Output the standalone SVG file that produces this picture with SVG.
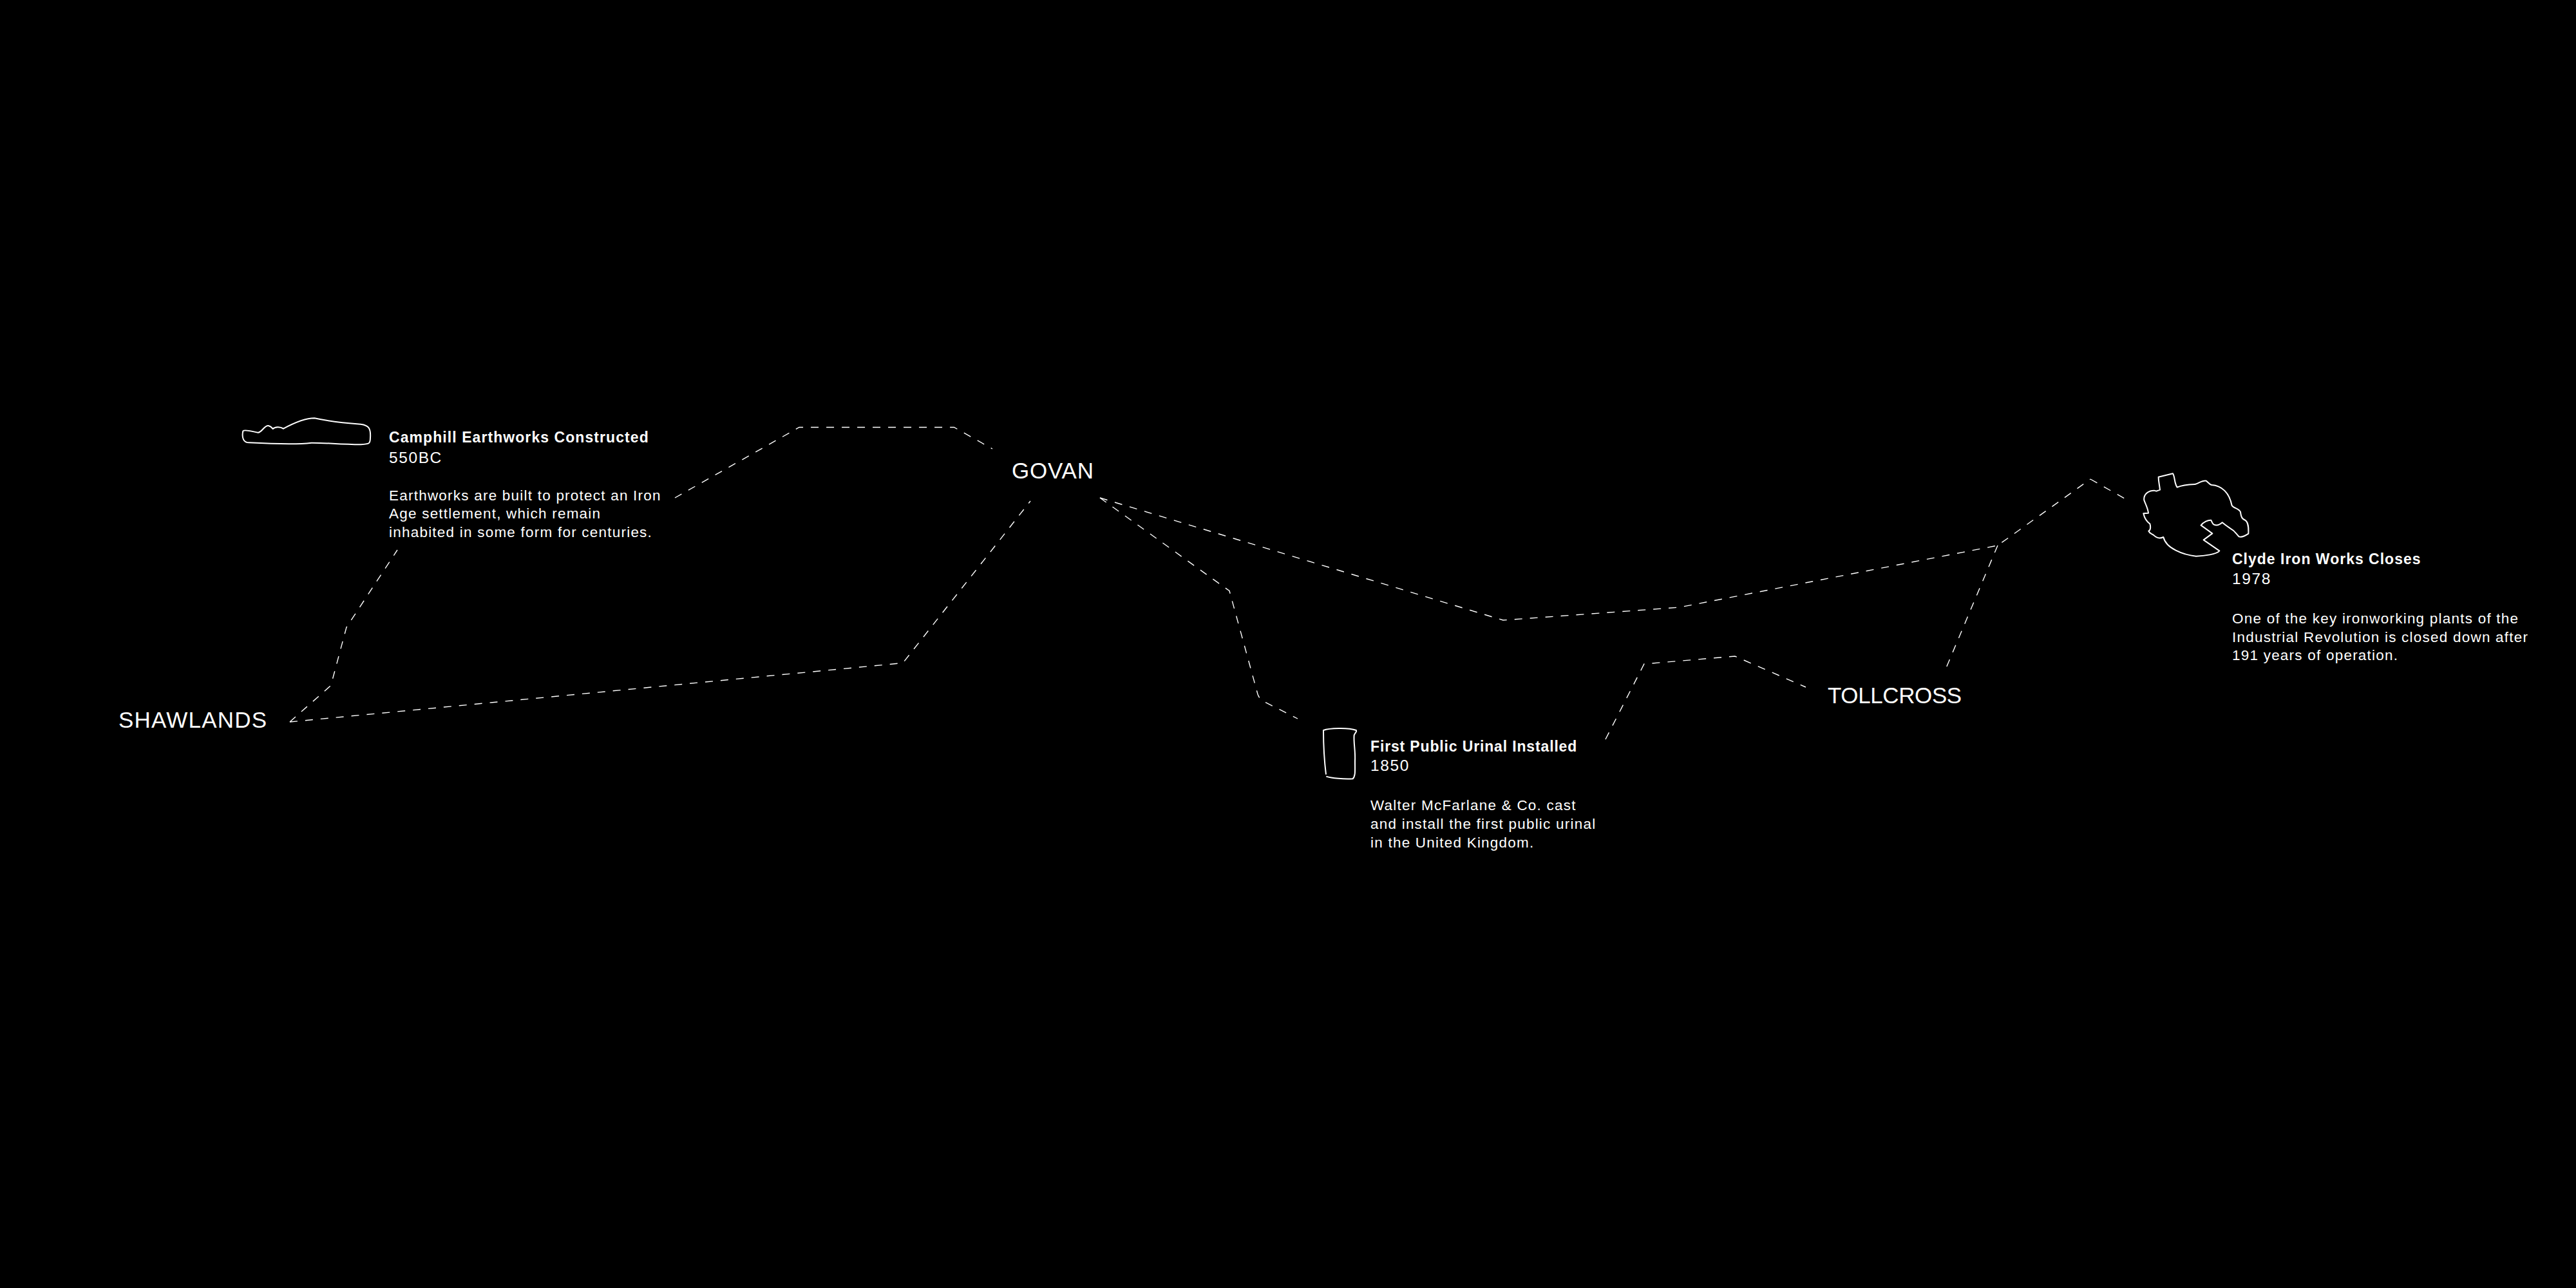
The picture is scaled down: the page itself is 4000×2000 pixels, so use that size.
<svg xmlns="http://www.w3.org/2000/svg" width="4000" height="2000" viewBox="0 0 4000 2000">
<style>
text{font-family:"Liberation Sans",Arial,sans-serif;fill:#fff}
.place{font-size:35px;letter-spacing:.8px}
.title{font-size:23px;font-weight:700;letter-spacing:.85px}
.sub{font-size:24.500px;letter-spacing:1.600px}
.body{font-size:22.500px;letter-spacing:1.220px}
.conn{fill:none;stroke:#fff;stroke-width:1.400;stroke-dasharray:12 12}
.shape{fill:none;stroke:#fff;stroke-width:6;stroke-linejoin:round}
</style>
<rect width="4000" height="2000" fill="#000"/>
<g id="connectors">
<path class="conn" d="M450 1121L512 1066Q514 1064 515 1060L538 974L617 854"/>
<path class="conn" d="M450 1121L1402 1029.500L1600 778"/>
<path class="conn" d="M1048 773L1241 663.500H1481.500L1541 697"/>
<path class="conn" d="M1708 773L1909 917.500L1953 1078Q1955 1084 1960 1088L2015 1116"/>
<path class="conn" d="M1708 773L2334 963L2608 943L3102 847L3246 744"/>
<path class="conn" d="M3246 744L3306 778"/>
<path class="conn" d="M3102 847L3022 1037"/>
<path class="conn" d="M2493 1148L2553 1031L2694 1019L2804 1067"/>
</g>
<g id="shawlands"><text class="place" x="184" y="1130" style="letter-spacing:1.2px">SHAWLANDS</text></g>
<g id="govan"><text class="place" x="1571" y="743">GOVAN</text></g>
<g id="tollcross"><text class="place" x="2838" y="1092" style="letter-spacing:-.4px">TOLLCROSS</text></g>
<g id="camphill">
<path class="shape" transform="translate(360 630) scale(.3333)" d="M52 118C60 108 100 122 122 125C140 125 150 92 170 93C180 95 185 100 191 108C200 98 225 96 240 107C290 80 340 58 385 58C430 68 520 80 600 86C640 90 648 110 645 150C645 178 640 178 600 181C500 180 430 172 370 173C300 182 200 178 80 172C55 172 45 150 52 118Z"/>
<text class="title" x="604" y="687" style="letter-spacing:1.07px">Camphill Earthworks Constructed</text>
<text class="sub" x="604" y="719">550BC</text>
<text class="body" x="604" y="777">Earthworks are built to protect an Iron</text>
<text class="body" x="604" y="805">Age settlement, which remain</text>
<text class="body" x="604" y="834">inhabited in some form for centuries.</text>
</g>
<g id="urinal">
<path class="shape" transform="translate(2030 1110) scale(.3333)" d="M87 278C80 220 75 130 75 72C100 62 190 58 228 72C232 80 222 82 218 95C215 130 225 170 222 215C222 260 225 285 212 298C170 300 115 296 88 287"/>
<text class="title" x="2128" y="1167">First Public Urinal Installed</text>
<text class="sub" x="2128" y="1197">1850</text>
<text class="body" x="2128" y="1258">Walter McFarlane &amp; Co. cast</text>
<text class="body" x="2128" y="1287">and install the first public urinal</text>
<text class="body" x="2128" y="1316">in the United Kingdom.</text>
</g>
<g id="clyde">
<path class="shape" transform="translate(3300 720) scale(.3333)" d="M155 62L222 46C232 60 228 90 242 110C270 98 300 97 325 96C345 90 360 76 378 80C388 88 392 96 402 99C450 102 485 135 497 195C505 208 530 208 537 225C540 250 545 258 560 264C575 275 575 300 574 326C560 335 545 345 530 340C515 325 510 312 490 302C475 292 465 285 452 274C440 285 425 290 412 283C405 278 403 270 400 263C385 262 365 272 353 287L406 325L365 355L439 406C425 422 370 430 330 431C270 425 190 395 178 342C165 348 150 350 135 335C125 325 115 328 109 314C120 310 118 290 115 280C100 270 90 255 85 232L108 230C105 205 95 190 88 170C85 145 105 125 135 125L145 128L162 122C160 100 155 85 155 62Z"/>
<text class="title" x="3466" y="876" style="letter-spacing:1px">Clyde Iron Works Closes</text>
<text class="sub" x="3466" y="907">1978</text>
<text class="body" x="3466" y="968">One of the key ironworking plants of the</text>
<text class="body" x="3466" y="997">Industrial Revolution is closed down after</text>
<text class="body" x="3466" y="1025">191 years of operation.</text>
</g>
</svg>
